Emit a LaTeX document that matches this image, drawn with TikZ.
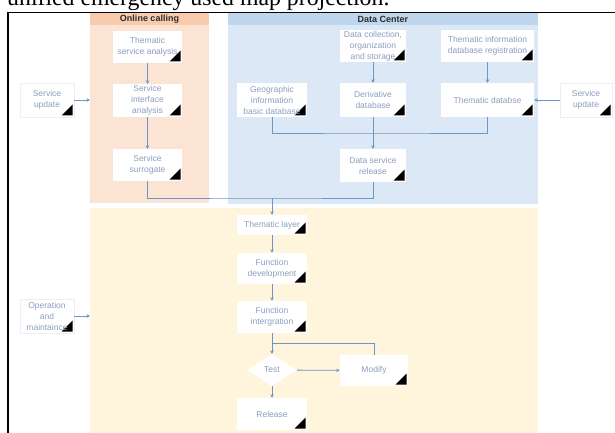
\documentclass[tikz,border=0pt]{standalone}
\usepackage{fontspec}
\setmainfont{Liberation Sans}
\newfontfamily\capfont{Liberation Serif}
\usetikzlibrary{arrows.meta,calc,shapes.geometric}
\definecolor{orangebg}{RGB}{251,228,212}
\definecolor{orangehd}{RGB}{247,203,172}
\definecolor{bluebg}{RGB}{221,232,246}
\definecolor{bluehd}{RGB}{190,215,238}
\definecolor{yellowbg}{RGB}{255,244,220}
\definecolor{boxtext}{RGB}{140,158,192}
\definecolor{linkc}{RGB}{105,152,200}
\definecolor{faint}{RGB}{236,238,242}
\definecolor{hdrtext}{RGB}{45,45,45}
\tikzset{
  box/.style={fill=white, draw=none, minimum width=#1, align=center, text=boxtext,
    font=\fontsize{8.5}{11}\selectfont, inner sep=0pt,
    path picture={\fill[black] ([shift={(-1.5pt,1.5pt)}]path picture bounding box.south east) -- ++(-11pt,0pt) -- ++(11pt,11pt) -- cycle;}},
  outbox/.style={box=#1, draw=faint, line width=0.6pt},
  link/.style={draw=linkc, line width=0.8pt},
  arr/.style={link, -{Stealth[length=3.5pt,width=3.5pt]}},
  hdr/.style={font=\bfseries\fontsize{9}{11}\selectfont, text=hdrtext}
}
\begin{document}
\begin{tikzpicture}[x=1pt,y=-1pt]
\useasboundingbox (0,0) rectangle (615,433);
\clip (0,0) rectangle (615,433);
% caption
\node[anchor=base west, inner sep=0pt, font=\capfont\fontsize{23.8}{26}\selectfont] (cap) at (7,6) {unified emergency used map projection.};
% frame
\draw[line width=1.7pt] (615,12.5) -- (8,12.5) -- (8,440);
% panels
\fill[orangebg] (90,13.4) rectangle (209,203);
\fill[orangehd] (90,13.4) rectangle (209,25);
\fill[bluebg] (228,13.4) rectangle (538,204);
\fill[bluehd] (228,13.4) rectangle (538,25);
\fill[yellowbg] (90,208) rectangle (538,433);
\node[hdr] (h1) at (149.5,19) {Online calling};
\node[hdr] (h2) at (383,19) {Data Center};
% boxes
\node[box=69pt, minimum height=32pt] (tsa) at (147.5,47) {Thematic\\service analysis};
\node[box=69pt, minimum height=33pt] (sia) at (147.5,100.5) {Service\\interface\\analysis};
\node[box=69pt, minimum height=32pt] (ss) at (147.5,165) {Service\\surrogate};
\node[outbox=54pt, minimum height=34pt] (sul) at (47,100) {Service\\update};
\node[box=70pt, minimum height=34pt] (geo) at (272,100) {Geographic\\information\\basic database};
\node[box=66pt, minimum height=32pt] (dcs) at (373,46) {Data collection,\\organization\\and storage};
\node[box=66pt, minimum height=34pt] (der) at (373,100) {Derivative\\database};
\node[box=93pt, minimum height=32pt] (tir) at (487.5,46) {Thematic information\\database registration};
\node[box=93pt, minimum height=34pt] (tdb) at (487.5,100) {Thematic databse};
\node[outbox=52pt, minimum height=34pt] (sur) at (586,100) {Service\\update};
\node[box=66pt, minimum height=33pt] (dsr) at (373,165.5) {Data service\\release};
\node[box=70pt, minimum height=20pt] (tl) at (272,225) {Thematic layer};
\node[box=70pt, minimum height=31pt] (fd) at (272,268.5) {Function\\development};
\node[box=70pt, minimum height=32pt] (fi) at (272,317) {Function\\intergration};
\node[outbox=54pt, minimum height=34pt] (om) at (47,316) {Operation\\and\\maintaince};
\node[diamond, aspect=1.56, fill=white, inner sep=0pt, minimum width=50pt, minimum height=32pt, text=boxtext, font=\fontsize{8.5}{11}\selectfont] (test) at (272,370) {Test};
\node[box=68pt, minimum height=31pt] (mod) at (374,370.5) {Modify};
\node[box=70pt, minimum height=32pt] (rel) at (272,414) {Release};
% coordinates
\coordinate (oleft) at (90,100);
\coordinate (yleft) at (90,316);
\coordinate (m) at (373,133);
\coordinate (j) at (272,198);
\coordinate (br) at (272,343);
% connectors
\draw[arr] (tsa) -- (sia);
\draw[arr] (sia) -- (ss);
\draw[arr] (sul) -- (oleft);
\draw[arr] (sur) -- (tdb);
\draw[arr] (dcs) -- (der);
\draw[arr] (tir) -- (tdb);
\draw[link] (geo.south) |- (m) -| (tdb.south);
\draw[link] (der.south) -- (m);
\draw[arr] (m) -- (dsr.north);
\draw[link] (ss.south) |- (j) -| (dsr.south);
\draw[arr] (j) -- (tl.north);
\draw[arr] (tl) -- (fd);
\draw[arr] (fd) -- (fi);
\draw[arr] (fi) -- (test);
\draw[link] (mod.north) |- (br);
\draw[arr] (test) -- (mod);
\draw[arr] (test) -- (rel);
\draw[arr] (om) -- (yleft);
\end{tikzpicture}
\end{document}
